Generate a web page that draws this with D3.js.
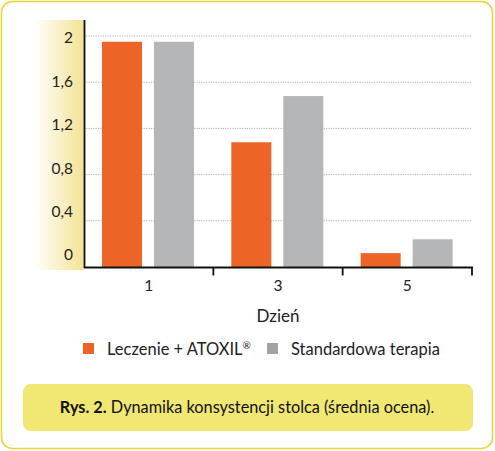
<!DOCTYPE html>
<html>
<head>
<meta charset="utf-8">
<script src="https://cdn.jsdelivr.net/npm/d3@7"></script>
<style>
  body { margin: 0; background: #fff; }
  svg { display: block; font-family: 'Lato', sans-serif; }
</style>
</head>
<body>
<svg id="svg1" width="495" height="451"></svg>
<script>
var days = ['1', '3', '5'];
var series = ['Leczenie + ATOXIL®', 'Standardowa terapia'];
var atoxil = [1.95, 1.08, 0.12];
var standard = [1.95, 1.48, 0.24];
var yTicks = [0, 0.4, 0.8, 1.2, 1.6, 2];
var xTitle = 'Dzień';
var captionBold = 'Rys. 2.';
var captionText = ' Dynamika konsystencji stolca (średnia ocena).';

var barColors = ['#ec6527', '#b5b6b8'];
var legendColors = ['#ec6527', '#a3a3a3'];

var svg = d3.select('svg');

// outer frame
svg.append('rect')
    .attr('x', 1.5).attr('y', 1.5)
    .attr('width', 491).attr('height', 447)
    .attr('rx', 11)
    .attr('fill', '#fff')
    .attr('stroke', '#ead43c')
    .attr('stroke-width', 1.6);

var x = d3.scaleBand().domain(days).range([84, 472]);
var xInner = d3.scaleBand().domain(series).range([18, 110]).paddingInner(0.23);
var y = d3.scaleLinear().domain([0, 2]).range([267, 36]);
// tick labels in the original sit on a slightly tighter spacing than the grid
var yLabel = d3.scaleLinear().domain([0, 2]).range([255, 38]);

// yellow band behind the y labels
var grad = svg.append('defs').append('linearGradient')
    .attr('id', 'band').attr('x1', '0').attr('x2', '1');
grad.append('stop').attr('offset', '0').attr('stop-color', '#fff');
grad.append('stop').attr('offset', '1').attr('stop-color', '#f4e293');
svg.append('rect')
    .attr('x', 34).attr('y', 20)
    .attr('width', 50).attr('height', 250)
    .attr('fill', 'url(#band)');

// dotted gridlines
svg.selectAll('.grid')
    .data(yTicks.filter(function(d) { return d > 0; }))
    .enter()
    .append('line')
    .attr('class', 'grid')
    .attr('x1', 86).attr('x2', 472)
    .attr('y1', function(d) { return y(d); })
    .attr('y2', function(d) { return y(d); })
    .attr('stroke', '#b0b0b0')
    .attr('stroke-width', 1)
    .attr('stroke-dasharray', '1.2,1.2');

// bars
var rows = days.map(function(d, i) {
    return { day: d, values: [atoxil[i], standard[i]] };
});

var groups = svg.selectAll('.day')
    .data(rows)
    .enter()
    .append('g')
    .attr('class', 'day')
    .attr('transform', function(d) { return 'translate(' + x(d.day) + ',0)'; });

groups.selectAll('rect')
    .data(function(d) { return d.values.map(function(v, j) { return { s: series[j], v: v, j: j }; }); })
    .enter()
    .append('rect')
    .attr('x', function(d) { return xInner(d.s); })
    .attr('width', xInner.bandwidth())
    .attr('y', function(d) { return y(d.v); })
    .attr('height', function(d) { return y(0) - y(d.v); })
    .attr('fill', function(d) { return barColors[d.j]; });

// y axis line + labels
svg.append('line')
    .attr('x1', 84.5).attr('x2', 84.5)
    .attr('y1', 20).attr('y2', 268)
    .attr('stroke', '#111').attr('stroke-width', 1.8);

svg.selectAll('.ylab')
    .data(yTicks)
    .enter()
    .append('text')
    .attr('class', 'ylab')
    .attr('x', 73)
    .attr('y', function(d) { return yLabel(d); })
    .attr('dy', '0.35em')
    .attr('text-anchor', 'end')
    .attr('font-size', 15.5)
    .attr('fill', '#222')
    .text(function(d) { return String(d).replace('.', ','); });

// x axis with ticks at band edges
var xAxis = svg.append('g')
    .attr('transform', 'translate(0,267.5)');
xAxis.append('line')
    .attr('x1', 84).attr('x2', 473)
    .attr('stroke', '#111').attr('stroke-width', 1.8);
xAxis.selectAll('.tick')
    .data(days.slice(1).map(function(d) { return x(d); }).concat([x.range()[1]]))
    .enter()
    .append('line')
    .attr('x1', function(d) { return d; })
    .attr('x2', function(d) { return d; })
    .attr('y1', 0).attr('y2', 8)
    .attr('stroke', '#111').attr('stroke-width', 1.8);
xAxis.selectAll('.xlab')
    .data(days)
    .enter()
    .append('text')
    .attr('x', function(d) { return x(d) + x.bandwidth() / 2; })
    .attr('y', 23)
    .attr('text-anchor', 'middle')
    .attr('font-size', 15.5)
    .attr('fill', '#222')
    .text(function(d) { return d; });

svg.append('text')
    .attr('x', 278).attr('y', 322)
    .attr('text-anchor', 'middle')
    .attr('font-size', 17)
    .attr('fill', '#222')
    .text(xTitle);

// legend
var legendX = [83, 267];
var legend = svg.selectAll('.legend')
    .data(series)
    .enter()
    .append('g')
    .attr('class', 'legend')
    .attr('transform', function(d, i) { return 'translate(' + legendX[i] + ',343)'; });
legend.append('rect')
    .attr('width', 11).attr('height', 11)
    .attr('fill', function(d, i) { return legendColors[i]; });
var ltext = legend.append('text')
    .attr('x', 24).attr('y', 11.5)
    .attr('font-size', 16.5)
    .attr('fill', '#222');
ltext.append('tspan').text(function(d) { return d.replace('®', ''); });
ltext.filter(function(d) { return d.indexOf('®') >= 0; })
    .append('tspan')
    .attr('font-size', 10)
    .attr('dy', -6)
    .text('®');

// caption box
svg.append('rect')
    .attr('x', 23).attr('y', 384)
    .attr('width', 450).attr('height', 47)
    .attr('rx', 8)
    .attr('fill', '#f1e773');
var cap = svg.append('text')
    .attr('x', 247).attr('y', 413)
    .attr('text-anchor', 'middle')
    .attr('font-size', 16.3)
    .attr('fill', '#111');
cap.append('tspan').attr('font-weight', 'bold').text(captionBold);
cap.append('tspan').text(captionText);
</script>
</body>
</html>
